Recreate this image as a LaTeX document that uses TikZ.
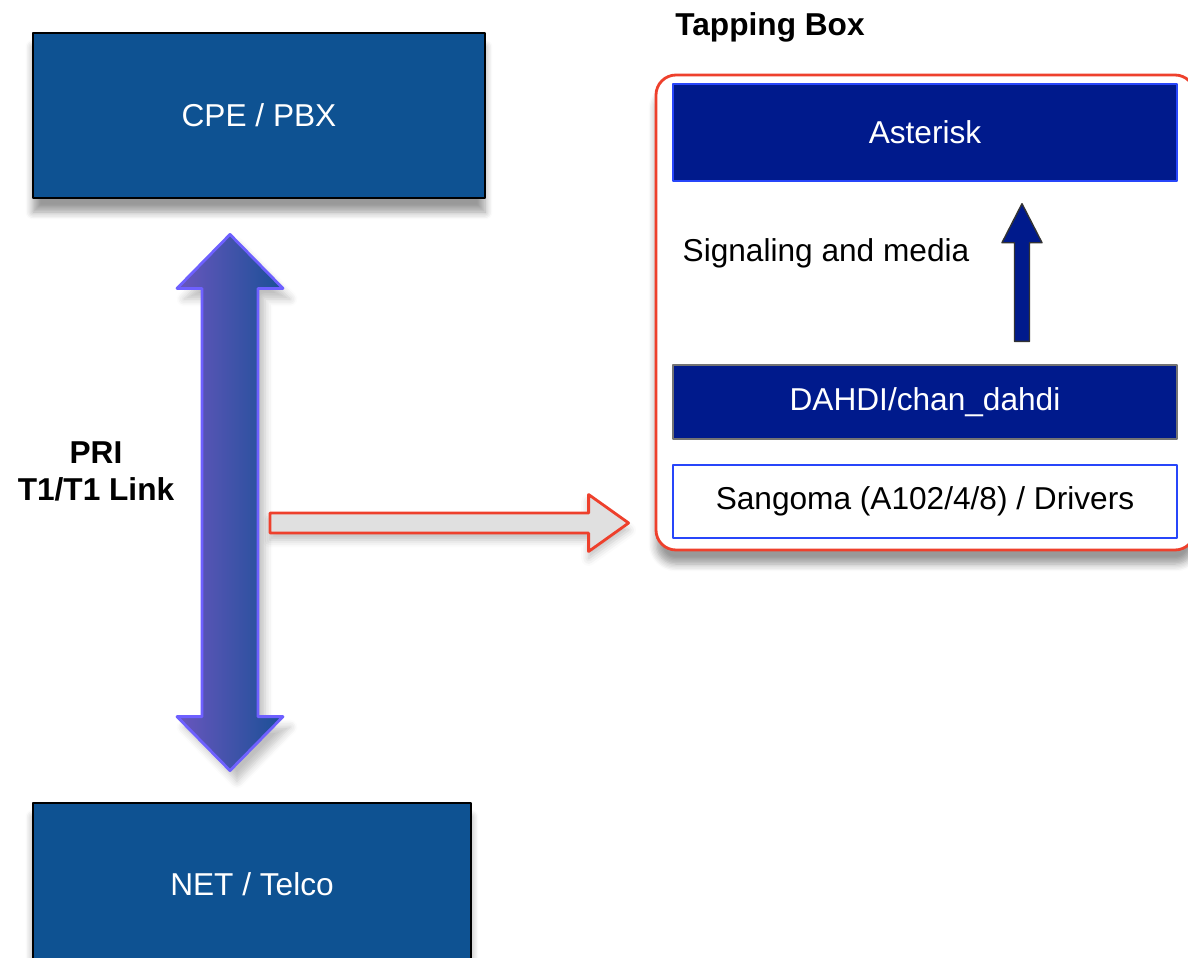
\documentclass[tikz,border=0pt]{standalone}
\usepackage{fontspec}
\setmainfont{Liberation Sans}
\usetikzlibrary{calc}
\usetikzlibrary{positioning}
\usetikzlibrary{shadows.blur}

\definecolor{pbxblue}{RGB}{14,82,146}
\definecolor{astnavy}{RGB}{0,26,140}
\definecolor{boxred}{RGB}{238,64,44}
\definecolor{drvblue}{RGB}{40,70,250}
\definecolor{linkleft}{RGB}{106,86,190}
\definecolor{linkright}{RGB}{26,80,150}
\definecolor{linkedge}{RGB}{110,96,255}

\tikzset{
  endbox/.style={draw=black, thick, fill=pbxblue, text=white, inner sep=0pt,
    blur shadow={shadow xshift=0pt, shadow yshift=-4pt, shadow blur steps=6, shadow opacity=40}},
  layerbox/.style={inner sep=0pt, minimum width=5.04cm},
  tapbox/.style={draw=boxred, thick, fill=white, rounded corners=0.2cm, inner sep=0pt,
    blur shadow={shadow xshift=0pt, shadow yshift=-4pt, shadow blur steps=6, shadow opacity=40}},
  linkarrow/.style={draw=linkedge, thick, left color=linkleft, right color=linkright,
    blur shadow={shadow xshift=2pt, shadow yshift=-3pt, shadow blur steps=5, shadow opacity=25}},
  taparrow/.style={draw=boxred, thick, fill=black!12,
    blur shadow={shadow xshift=0pt, shadow yshift=-2pt, shadow blur steps=4, shadow opacity=25}},
  sigarrow/.style={draw=black!80, fill=astnavy}
}

\begin{document}
\begin{tikzpicture}[line join=round, >=stealth, font=\fontsize{9}{11}\selectfont]
  \useasboundingbox (0,0) rectangle (11.88,-9.58);
  %--- CPE and NET
    \node[endbox, minimum width=4.52cm, minimum height=1.65cm] (cpe) at (2.59,-1.155) {CPE / PBX};
    \node[endbox, minimum width=4.38cm, minimum height=1.62cm] (net) at (2.52,-8.84) {NET / Telco};
  %--- PRI link
    \node[align=center, font=\fontsize{9}{10.5}\selectfont\bfseries] (pri) at (0.96,-4.71) {PRI\\T1/T1 Link};
    \coordinate (linkT) at ($(cpe.south)+(-0.29,-0.35)$);
    \coordinate (linkB) at ($(net.north)+(-0.22,0.31)$);
    \draw[linkarrow] (linkT) -- ($(linkT)+(0.53,-0.54)$) -- ($(linkT)+(0.28,-0.54)$)
      -- ($(linkB)+(0.28,0.54)$) -- ($(linkB)+(0.53,0.54)$) -- (linkB)
      -- ($(linkB)+(-0.53,0.54)$) -- ($(linkB)+(-0.28,0.54)$)
      -- ($(linkT)+(-0.28,-0.54)$) -- ($(linkT)+(-0.53,-0.54)$) -- cycle;
  %--- Tapping box
    \node[font=\fontsize{9}{11}\selectfont\bfseries] (taplabel) at (7.70,-0.27) {Tapping Box};
    \node[tapbox, minimum width=5.39cm, minimum height=4.75cm] (tap) at (9.255,-3.125) {};
    \node[layerbox, draw=drvblue, fill=astnavy, text=white, minimum height=0.97cm] (asterisk) at (9.25,-1.325) {Asterisk};
    \node[layerbox, draw=black!55, fill=astnavy, text=white, minimum height=0.74cm] (dahdi) at (9.25,-4.02) {DAHDI/chan\_dahdi};
    \node[layerbox, draw=drvblue, thick, fill=white, minimum height=0.73cm] (sangoma) at (9.25,-5.015) {Sangoma (A102/4/8) / Drivers};
  %--- Signaling
    \node (sig) at (8.26,-2.53) {Signaling and media};
    \coordinate (sigS) at ($(dahdi.north)+(0.97,0.23)$);
    \coordinate (sigE) at ($(asterisk.south)+(0.97,-0.22)$);
    \draw[sigarrow] ($(sigS)+(-0.075,0)$) -- ($(sigE)+(-0.075,-0.39)$) -- ($(sigE)+(-0.20,-0.39)$)
      -- (sigE) -- ($(sigE)+(0.20,-0.39)$) -- ($(sigE)+(0.075,-0.39)$) -- ($(sigS)+(0.075,0)$) -- cycle;
  %--- Tap
    \coordinate (tapE) at ($(tap.west)+(-0.26,-2.105)$);
    \coordinate (cpeX) at ($(cpe.south)+(0.11,0)$);
    \coordinate (tapS) at (cpeX |- tapE);
    \draw[taparrow] ($(tapS)+(0,0.10)$) -- ($(tapE)+(-0.40,0.10)$) -- ($(tapE)+(-0.40,0.285)$)
      -- (tapE) -- ($(tapE)+(-0.40,-0.285)$) -- ($(tapE)+(-0.40,-0.10)$) -- ($(tapS)+(0,-0.10)$) -- cycle;
  \end{tikzpicture}
\end{document}
